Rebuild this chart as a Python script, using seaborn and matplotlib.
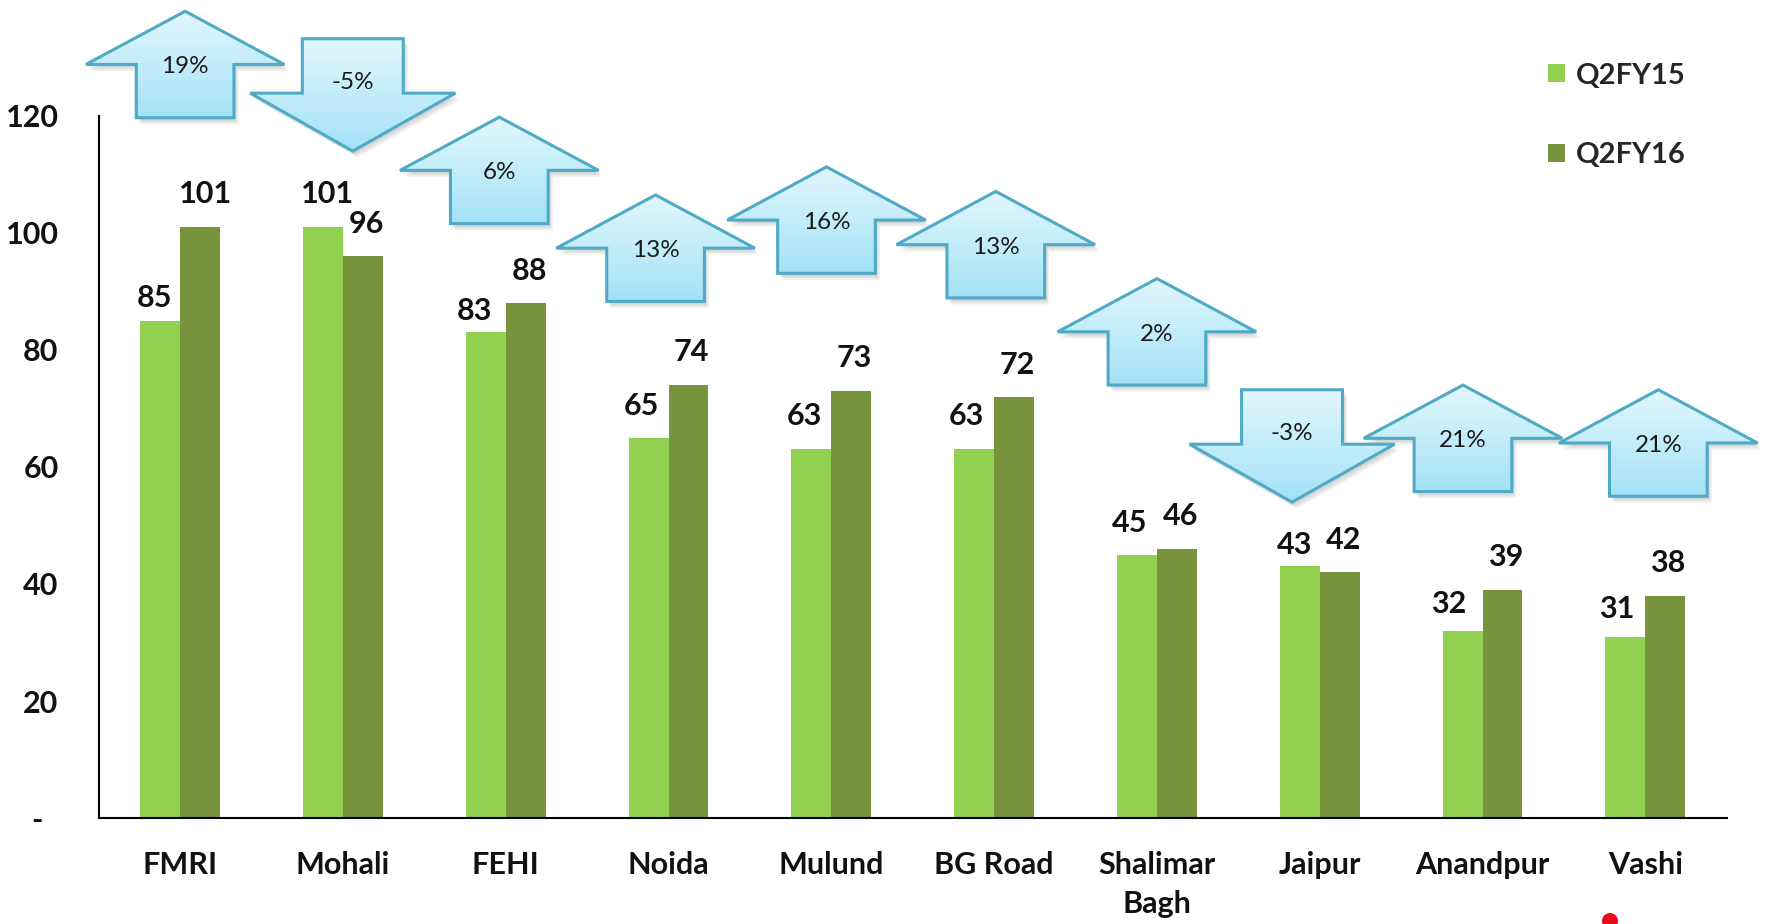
import numpy as np
import pandas as pd
import seaborn as sns
import matplotlib.pyplot as plt
from matplotlib.patches import Polygon, Ellipse
from matplotlib.colors import LinearSegmentedColormap

# data
centres = ["FMRI", "Mohali", "FEHI", "Noida", "Mulund", "BG Road",
           "Shalimar\nBagh", "Jaipur", "Anandpur", "Vashi"]
q2fy15 = [85, 101, 83, 65, 63, 63, 45, 43, 32, 31]
q2fy16 = [101, 96, 88, 74, 73, 72, 46, 42, 39, 38]
change_pct = [19, -5, 6, 13, 16, 13, 2, -3, 21, 21]
periods = ["Q2FY15", "Q2FY16"]
ytick_vals = [0, 20, 40, 60, 80, 100, 120]
ytick_labels = ["-  ", "20", "40", "60", "80", "100", "120"]

# layout only: where the block arrows sit, where the value labels float
arrow_dx = [0.03, 0.06, -0.04, -0.08, -0.03, 0.01, 0.0, -0.17, -0.12, 0.08]
arrow_y = [119.7, 133.2, 101.6, 88.3, 93.1, 88.9, 74.0, 73.2, 55.8, 55.0]
label_pad = [
    [6, 14, 5.5, 13, 14, 14, 13, 5.5, 9.5, 9.5],
    [13.5, 13.5, 13, 13.5, 13.5, 13, 13.5, 13.5, 13.5, 13.5],
]
label_dx = [
    [-4, 3, -8, -5, -5, -6, -5, -4, -10, -6],
    [4, 2.5, 2.5, 2, 2, 2, 2.5, 2.5, 2, 2],
]

light = "#92D050"
dark = "#77933C"

df = pd.DataFrame({
    "centre": centres * 2,
    "period": [periods[0]] * len(centres) + [periods[1]] * len(centres),
    "value": q2fy15 + q2fy16,
})

sns.set_theme(style="white")
plt.rcParams["font.family"] = ["Lato", "DejaVu Sans"]

fig = plt.figure(figsize=(17.81, 9.24), dpi=100)
L, B, W, H = 0.0555, 0.1147, 0.914, 0.7598
ax = fig.add_axes([L, B, W, H])

sns.barplot(data=df, x="centre", y="value", hue="period", order=centres,
            palette=[light, dark], width=0.49, gap=0, linewidth=0,
            saturation=1, ax=ax)

for j, cont in enumerate(ax.containers):
    anns = ax.bar_label(cont, fmt="%.0f", padding=5, fontsize=22,
                        fontweight="bold", color="#111111")
    for k, a in enumerate(anns):
        a.xyann = (label_dx[j][k], label_pad[j][k])

xmin, xmax, ymin, ymax = -0.5, len(centres) - 0.5, 0, 120
ax.set_xlim(xmin, xmax)
ax.set_ylim(ymin, ymax)
ax.set_yticks(ytick_vals)
ax.set_yticklabels(ytick_labels, fontsize=22, fontweight="bold")
ax.set_xticks(range(len(centres)))
ax.set_xticklabels(centres, fontsize=22, fontweight="bold", linespacing=1.48)
ax.tick_params(axis="y", length=0, pad=29, colors="#111111")
ax.tick_params(axis="x", length=0, pad=24, colors="#111111")
ax.set_xlabel("")
ax.set_ylabel("")
for s in ["top", "right"]:
    ax.spines[s].set_visible(False)
for s in ["left", "bottom"]:
    ax.spines[s].set_color("black")
    ax.spines[s].set_linewidth(1.5)

handles, labels = ax.get_legend_handles_labels()
ax.get_legend().remove()
fig.legend(handles, labels, loc="center left", bbox_to_anchor=(0.869, 0.875),
           frameon=False, handlelength=0.58, handleheight=0.58,
           handletextpad=0.4, labelspacing=1.85, borderpad=0,
           borderaxespad=0, prop={"size": 21, "weight": "bold"})

# overlay axes over the whole figure using the same data units
xs = (xmax - xmin) / W
ys = (ymax - ymin) / H
ov = fig.add_axes([0, 0, 1, 1], zorder=5)
ov.set_axis_off()

grad = LinearSegmentedColormap.from_list("g", ["#A4E2F7", "#E2F7FD"])
edge = "#4FAAC6"


def arrow_pts(xc, y, up):
    if up:
        bw, hw, bh, hh = 0.30, 0.61, 9.1, 9.1
        return [(xc - bw, y), (xc + bw, y), (xc + bw, y + bh), (xc + hw, y + bh),
                (xc, y + bh + hh), (xc - hw, y + bh), (xc - bw, y + bh)]
    bw, hw, bh, hh = 0.31, 0.63, 9.3, 9.9
    return [(xc - bw, y), (xc + bw, y), (xc + bw, y - bh), (xc + hw, y - bh),
            (xc, y - bh - hh), (xc - hw, y - bh), (xc - bw, y - bh)]


for i, pct in enumerate(change_pct):
    up = pct >= 0
    xc = i + arrow_dx[i]
    pts = np.array(arrow_pts(xc, arrow_y[i], up))
    # soft shadow
    for ox, oy in [(0.012, -0.5), (0.02, -0.8), (0.028, -1.1)]:
        ov.add_patch(Polygon(pts + [ox, oy], closed=True, facecolor="#7f7f7f",
                             edgecolor="none", alpha=0.12))
    poly = Polygon(pts, closed=True, facecolor="none", edgecolor=edge,
                   linewidth=2.2, zorder=3)
    ov.add_patch(poly)
    x0, x1 = pts[:, 0].min(), pts[:, 0].max()
    y0, y1 = pts[:, 1].min(), pts[:, 1].max()
    im = ov.imshow(np.linspace(0, 1, 100).reshape(-1, 1), cmap=grad,
                   extent=(x0, x1, y0, y1), origin="lower", aspect="auto",
                   zorder=2)
    im.set_clip_path(poly)
    ty = arrow_y[i] + 8.7 if up else arrow_y[i] - 7.4
    ov.text(xc, ty, f"{pct}%", ha="center", va="center", fontsize=17.5,
            color="#1a1a1a", zorder=4)

ov.set_xlim(xmin - L * xs, xmin + (1 - L) * xs)
ov.set_ylim(ymin - B * ys, ymin + (1 - B) * ys)

fig.patches.append(Ellipse((1610 / 1781, 3 / 924), 16 / 1781, 16 / 924,
                           transform=fig.transFigure, facecolor="#E8091B",
                           edgecolor="none"))

fig.savefig("out.png", dpi=100, facecolor="white")
